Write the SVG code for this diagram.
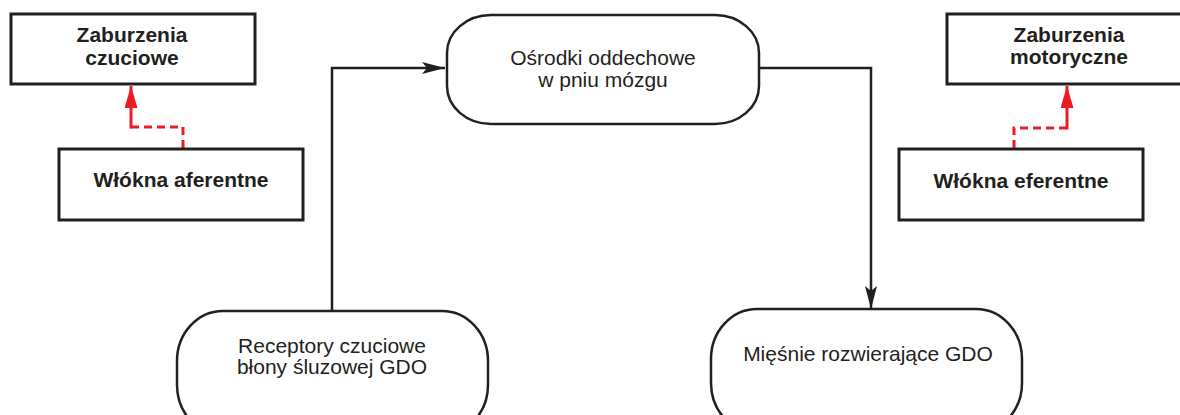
<svg xmlns="http://www.w3.org/2000/svg" width="1180" height="415" viewBox="0 0 1180 415">
<style>
.box{fill:#fff;stroke:#231f20;stroke-width:3}
.pill{fill:#fff;stroke:#231f20;stroke-width:2.5}
.bt{font-family:"Liberation Sans",Arial,Helvetica,sans-serif;font-weight:bold;font-size:21px;fill:#231f20;text-anchor:middle}
.rt{font-family:"Liberation Sans",Arial,Helvetica,sans-serif;font-size:21px;fill:#231f20;text-anchor:middle}
.blk{fill:none;stroke:#231f20;stroke-width:2.5}
.red{fill:none;stroke:#ed1c24;stroke-width:3}
.dash{stroke-dasharray:8 5}
</style>
<defs>
<marker id="ab" markerUnits="userSpaceOnUse" markerWidth="24" markerHeight="14" refX="23" refY="6" orient="auto">
<path d="M0,0 L23,6 L0,12 L5,6 z" fill="#231f20"/>
</marker>
<marker id="ar" markerUnits="userSpaceOnUse" markerWidth="24" markerHeight="14" refX="22" refY="6.5" orient="auto">
<path d="M0,0 L22,6.5 L0,13 z" fill="#ed1c24"/>
</marker>
</defs>
<rect width="1180" height="415" fill="#fff"/>
<g id="connectors">
<path class="blk" d="M332 311 V68 H445" marker-end="url(#ab)"/>
<path class="blk" d="M759 68 H871 V309" marker-end="url(#ab)"/>
<path class="red dash" d="M183 148 V127 H131"/>
<path class="red" d="M131 128.5 V86" marker-end="url(#ar)"/>
<path class="red dash" d="M1014 148 V128 H1067"/>
<path class="red" d="M1067 129.5 V86" marker-end="url(#ar)"/>
</g>
<g id="zab-czuciowe">
<rect class="box" x="11" y="14" width="244" height="70"/>
<text class="bt" x="132" y="42">Zaburzenia</text>
<text class="bt" x="132" y="65">czuciowe</text>
</g>
<g id="wlokna-aferentne">
<rect class="box" x="59" y="149" width="244" height="71"/>
<text class="bt" x="181" y="187">Włókna aferentne</text>
</g>
<g id="zab-motoryczne">
<rect class="box" x="947" y="14" width="246" height="70"/>
<text class="bt" x="1069" y="42">Zaburzenia</text>
<text class="bt" x="1069" y="64">motoryczne</text>
</g>
<g id="wlokna-eferentne">
<rect class="box" x="899" y="149" width="244" height="71"/>
<text class="bt" x="1021" y="188">Włókna eferentne</text>
</g>
<g id="osrodki">
<rect class="pill" x="447" y="15" width="312" height="109" rx="44" ry="38"/>
<text class="rt" x="603" y="65">Ośrodki oddechowe</text>
<text class="rt" x="603" y="87">w pniu mózgu</text>
</g>
<g id="receptory">
<rect class="pill" x="177" y="311" width="311" height="124" rx="46" ry="50"/>
<text class="rt" x="332" y="353">Receptory czuciowe</text>
<text class="rt" x="332" y="374">błony śluzowej GDO</text>
</g>
<g id="miesnie">
<rect class="pill" x="711" y="309" width="311" height="124" rx="46" ry="50"/>
<text class="rt" x="868" y="361">Mięśnie rozwierające GDO</text>
</g>
</svg>
